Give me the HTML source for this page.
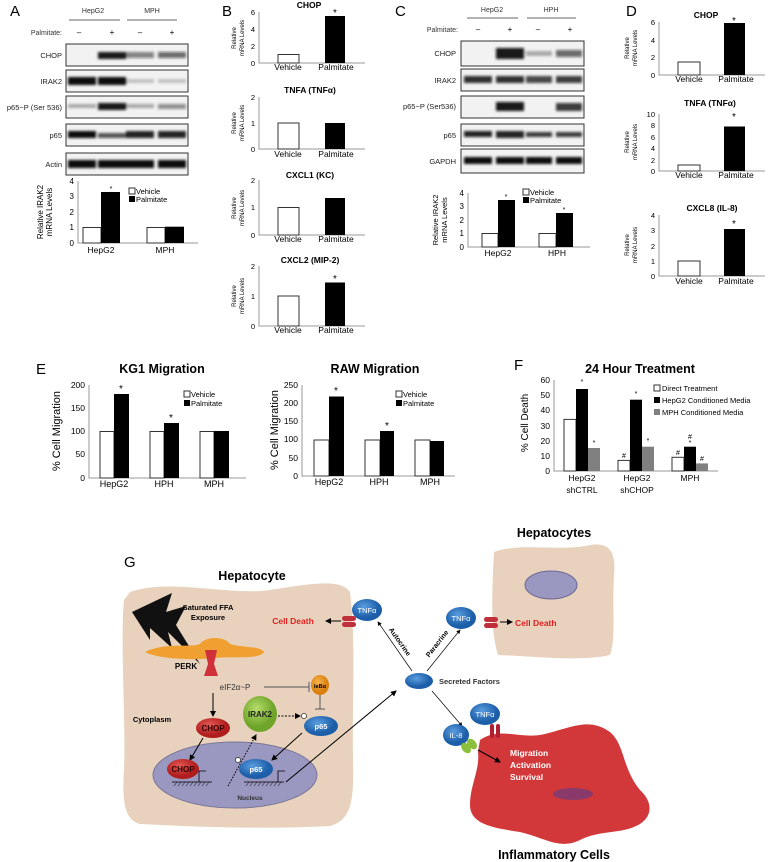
<!DOCTYPE html>
<html><head><meta charset="utf-8"><style>html,body{margin:0;padding:0;background:#fff}svg{display:block}</style></head>
<body>
<svg width="768" height="862" viewBox="0 0 768 862" xmlns="http://www.w3.org/2000/svg" font-family="Liberation Sans, sans-serif">
<defs>
<filter id="bl" x="-20%" y="-50%" width="140%" height="200%"><feGaussianBlur stdDeviation="1.2"/></filter>
<marker id="ar" markerWidth="6" markerHeight="6" refX="5" refY="3" orient="auto"><path d="M0,0 L6,3 L0,6 z" fill="#000"/></marker>
<radialGradient id="gb" cx="40%" cy="35%"><stop offset="0" stop-color="#5a9ee0"/><stop offset="1" stop-color="#1c5ea8"/></radialGradient>
<radialGradient id="gr" cx="40%" cy="35%"><stop offset="0" stop-color="#e65a55"/><stop offset="1" stop-color="#b01d1d"/></radialGradient>
<radialGradient id="gg" cx="40%" cy="35%"><stop offset="0" stop-color="#b5dc6a"/><stop offset="1" stop-color="#6fa52a"/></radialGradient>
<radialGradient id="go" cx="40%" cy="35%"><stop offset="0" stop-color="#f7b24a"/><stop offset="1" stop-color="#d9800f"/></radialGradient>
</defs>

<!-- ===== Panel A ===== -->
<text x="10" y="16" font-size="15">A</text>
<text x="93" y="13" font-size="7" text-anchor="middle" fill="#333">HepG2</text>
<text x="152" y="13" font-size="7" text-anchor="middle" fill="#333">MPH</text>
<line x1="69" y1="20" x2="120" y2="20" stroke="#666"/>
<line x1="127" y1="20" x2="177" y2="20" stroke="#666"/>
<text x="62" y="35" font-size="7" text-anchor="end" fill="#333">Palmitate:</text>
<g font-size="8" text-anchor="middle"><text x="79" y="35">–</text><text x="112" y="35">+</text><text x="140" y="35">–</text><text x="172" y="35">+</text></g>
<g stroke="#333" fill="#f2f2f2"><rect x="66" y="44" width="122" height="22"/><rect x="66" y="70" width="122" height="22"/><rect x="66" y="96" width="122" height="22"/><rect x="66" y="124" width="122" height="22"/><rect x="66" y="153" width="122" height="22"/></g>
<g font-size="7.5" text-anchor="end" fill="#222"><text x="62" y="58">CHOP</text><text x="62" y="84">IRAK2</text><text x="62" y="110">p65~P (Ser 536)</text><text x="62" y="138">p65</text><text x="62" y="167">Actin</text></g>
<g filter="url(#bl)" fill="#111">
<rect x="98" y="52" width="28" height="7" opacity=".95"/><rect x="126" y="52" width="28" height="6" opacity=".5"/><rect x="158" y="52" width="28" height="6" opacity=".6"/>
<rect x="68" y="77" width="28" height="8"/><rect x="98" y="77" width="28" height="8"/><rect x="126" y="79" width="28" height="4" opacity=".2"/><rect x="158" y="79" width="28" height="4" opacity=".2"/>
<rect x="68" y="104" width="28" height="4" opacity=".3"/><rect x="98" y="103" width="28" height="7" opacity=".95"/><rect x="126" y="104" width="28" height="4" opacity=".35"/><rect x="158" y="104" width="28" height="5" opacity=".45"/>
<rect x="68" y="131" width="28" height="7"/><rect x="98" y="133" width="28" height="5" opacity=".7"/><rect x="126" y="131" width="28" height="7" opacity=".9"/><rect x="158" y="131" width="28" height="7" opacity=".9"/>
<rect x="68" y="160" width="28" height="8"/><rect x="98" y="160" width="28" height="8"/><rect x="126" y="160" width="28" height="8"/><rect x="158" y="160" width="28" height="8"/>
</g>
<g stroke="#999" fill="none"><path d="M78,181 V243 H198"/></g>
<g font-size="8" text-anchor="end"><text x="74" y="184">4</text><text x="74" y="199">3</text><text x="74" y="215">2</text><text x="74" y="230">1</text><text x="74" y="246">0</text></g>
<text transform="translate(43,212) rotate(-90)" font-size="8" text-anchor="middle">Relative IRAK2</text>
<text transform="translate(52,212) rotate(-90)" font-size="8" text-anchor="middle">mRNA Levels</text>
<rect x="83" y="227.5" width="18" height="15.5" fill="#fff" stroke="#333"/><rect x="101" y="192" width="19" height="51" fill="#000"/>
<rect x="147" y="227.5" width="18" height="15.5" fill="#fff" stroke="#333"/><rect x="165" y="226.7" width="19" height="16.3" fill="#000"/>
<text x="111" y="191" font-size="7" text-anchor="middle">*</text>
<text x="101" y="253" font-size="8.5" text-anchor="middle">HepG2</text><text x="165" y="253" font-size="8.5" text-anchor="middle">MPH</text>
<rect x="129" y="188" width="6" height="6" fill="#fff" stroke="#333"/><text x="136" y="194" font-size="7.5">Vehicle</text>
<rect x="129" y="196" width="6" height="6" fill="#000"/><text x="136" y="202" font-size="7.5">Palmitate</text>

<!-- ===== Panel B ===== -->
<text x="222" y="16" font-size="15">B</text>
<g font-weight="bold" font-size="8.5" text-anchor="middle"><text x="309" y="8">CHOP</text><text x="310" y="93">TNFA (TNFα)</text><text x="310" y="178">CXCL1 (KC)</text><text x="310" y="263">CXCL2 (MIP-2)</text></g>
<g stroke="#999" fill="none"><path d="M259,12 V63 H365"/><path d="M259,97 V149 H365"/><path d="M259,180 V235 H365"/><path d="M259,266 V326 H365"/></g>
<g font-size="7.5" text-anchor="end"><text x="255" y="15">6</text><text x="255" y="32">4</text><text x="255" y="49">2</text><text x="255" y="66">0</text>
<text x="255" y="100">2</text><text x="255" y="126">1</text><text x="255" y="152">0</text>
<text x="255" y="183">2</text><text x="255" y="210">1</text><text x="255" y="238">0</text>
<text x="255" y="269">2</text><text x="255" y="299">1</text><text x="255" y="329">0</text></g>
<g font-size="6" text-anchor="middle"><text transform="translate(236,38) rotate(-90)">Relative</text><text transform="translate(244,38) rotate(-90)">mRNA Levels</text>
<text transform="translate(236,123) rotate(-90)">Relative</text><text transform="translate(244,123) rotate(-90)">mRNA Levels</text>
<text transform="translate(236,208) rotate(-90)">Relative</text><text transform="translate(244,208) rotate(-90)">mRNA Levels</text>
<text transform="translate(236,296) rotate(-90)">Relative</text><text transform="translate(244,296) rotate(-90)">mRNA Levels</text></g>
<g fill="#fff" stroke="#333"><rect x="278" y="54.5" width="21" height="8.5"/><rect x="278" y="123" width="21" height="26"/><rect x="278" y="207.5" width="21" height="27.5"/><rect x="278" y="296" width="21" height="30"/></g>
<g fill="#000"><rect x="325" y="16" width="20" height="47"/><rect x="325" y="123" width="20" height="26"/><rect x="325" y="198" width="20" height="37"/><rect x="325" y="282.5" width="20" height="43.5"/></g>
<g font-size="10" text-anchor="middle"><text x="335" y="16">*</text><text x="335" y="282">*</text></g>
<g font-size="8.5" text-anchor="middle"><text x="288" y="70">Vehicle</text><text x="336" y="70">Palmitate</text><text x="288" y="157">Vehicle</text><text x="336" y="157">Palmitate</text><text x="288" y="242">Vehicle</text><text x="336" y="242">Palmitate</text><text x="288" y="333">Vehicle</text><text x="336" y="333">Palmitate</text></g>

<!-- ===== Panel C ===== -->
<text x="395" y="16" font-size="15">C</text>
<text x="492" y="12" font-size="7" text-anchor="middle" fill="#333">HepG2</text>
<text x="551" y="12" font-size="7" text-anchor="middle" fill="#333">HPH</text>
<line x1="467" y1="18" x2="518" y2="18" stroke="#666"/><line x1="527" y1="18" x2="576" y2="18" stroke="#666"/>
<text x="458" y="32" font-size="7" text-anchor="end" fill="#333">Palmitate:</text>
<g font-size="8" text-anchor="middle"><text x="478" y="32">–</text><text x="510" y="32">+</text><text x="538" y="32">–</text><text x="570" y="32">+</text></g>
<g stroke="#333" fill="#f2f2f2"><rect x="461" y="41" width="123" height="25"/><rect x="461" y="69" width="123" height="22"/><rect x="461" y="96" width="123" height="22"/><rect x="461" y="124" width="123" height="22"/><rect x="461" y="149" width="123" height="24"/></g>
<g font-size="7.5" text-anchor="end" fill="#222"><text x="456" y="56">CHOP</text><text x="456" y="83">IRAK2</text><text x="456" y="109">p65~P (Ser536)</text><text x="456" y="138">p65</text><text x="456" y="164">GAPDH</text></g>
<g filter="url(#bl)" fill="#111">
<rect x="496" y="48" width="28" height="11" opacity=".95"/><rect x="526" y="51" width="26" height="5" opacity=".3"/><rect x="556" y="50" width="26" height="7" opacity=".6"/>
<rect x="464" y="76" width="28" height="7" opacity=".85"/><rect x="496" y="76" width="28" height="7" opacity=".85"/><rect x="526" y="76" width="26" height="7" opacity=".75"/><rect x="556" y="76" width="26" height="7" opacity=".8"/>
<rect x="496" y="102" width="28" height="9" opacity=".95"/><rect x="556" y="103" width="26" height="8" opacity=".8"/>
<rect x="464" y="131" width="28" height="6" opacity=".9"/><rect x="496" y="131" width="28" height="7" opacity=".9"/><rect x="526" y="132" width="26" height="5" opacity=".8"/><rect x="556" y="132" width="26" height="5" opacity=".8"/>
<rect x="464" y="157" width="28" height="7"/><rect x="496" y="157" width="28" height="7"/><rect x="526" y="157" width="26" height="7"/><rect x="556" y="157" width="26" height="7"/>
</g>
<g stroke="#999" fill="none"><path d="M468,193 V247 H590"/></g>
<g font-size="8" text-anchor="end"><text x="464" y="196">4</text><text x="464" y="209">3</text><text x="464" y="223">2</text><text x="464" y="236">1</text><text x="464" y="250">0</text></g>
<text transform="translate(438,220) rotate(-90)" font-size="7.5" text-anchor="middle">Relative IRAK2</text>
<text transform="translate(447,220) rotate(-90)" font-size="7.5" text-anchor="middle">mRNA Levels</text>
<rect x="482" y="233.5" width="16" height="13.5" fill="#fff" stroke="#333"/><rect x="498" y="200" width="17" height="47" fill="#000"/>
<rect x="539" y="233.5" width="17" height="13.5" fill="#fff" stroke="#333"/><rect x="556" y="213" width="17" height="34" fill="#000"/>
<g font-size="7" text-anchor="middle"><text x="506" y="199">*</text><text x="564" y="212">*</text></g>
<text x="498" y="256" font-size="8.5" text-anchor="middle">HepG2</text><text x="557" y="256" font-size="8.5" text-anchor="middle">HPH</text>
<rect x="523" y="189" width="6" height="6" fill="#fff" stroke="#333"/><text x="530" y="195" font-size="7.5">Vehicle</text>
<rect x="523" y="197" width="6" height="6" fill="#000"/><text x="530" y="203" font-size="7.5">Palmitate</text>

<!-- ===== Panel D ===== -->
<text x="626" y="16" font-size="15">D</text>
<g font-weight="bold" font-size="8.5" text-anchor="middle"><text x="706" y="18">CHOP</text><text x="710" y="106">TNFA (TNFα)</text><text x="712" y="211">CXCL8 (IL-8)</text></g>
<g stroke="#999" fill="none"><path d="M659,22 V75 H765"/><path d="M659,114 V171 H765"/><path d="M659,215 V276 H765"/></g>
<g font-size="7.5" text-anchor="end"><text x="655" y="25">6</text><text x="655" y="43">4</text><text x="655" y="60">2</text><text x="655" y="78">0</text>
<text x="655" y="117">10</text><text x="655" y="128">8</text><text x="655" y="140">6</text><text x="655" y="151">4</text><text x="655" y="163">2</text><text x="655" y="174">0</text>
<text x="655" y="218">4</text><text x="655" y="233">3</text><text x="655" y="249">2</text><text x="655" y="264">1</text><text x="655" y="279">0</text></g>
<g font-size="6" text-anchor="middle"><text transform="translate(629,48) rotate(-90)">Relative</text><text transform="translate(637,48) rotate(-90)">mRNA Levels</text>
<text transform="translate(629,142) rotate(-90)">Relative</text><text transform="translate(637,142) rotate(-90)">mRNA Levels</text>
<text transform="translate(629,245) rotate(-90)">Relative</text><text transform="translate(637,245) rotate(-90)">mRNA Levels</text></g>
<g fill="#fff" stroke="#333"><rect x="678" y="62" width="22" height="13"/><rect x="678" y="165" width="22" height="6"/><rect x="678" y="261" width="22" height="15"/></g>
<g fill="#000"><rect x="724" y="23" width="21" height="52"/><rect x="724" y="126.5" width="21" height="44.5"/><rect x="724" y="229" width="21" height="47"/></g>
<g font-size="10" text-anchor="middle"><text x="734" y="24">*</text><text x="734" y="120">*</text><text x="734" y="227">*</text></g>
<g font-size="8.5" text-anchor="middle"><text x="689" y="82">Vehicle</text><text x="736" y="82">Palmitate</text><text x="689" y="178">Vehicle</text><text x="736" y="178">Palmitate</text><text x="689" y="284">Vehicle</text><text x="736" y="284">Palmitate</text></g>

<!-- ===== Panel E ===== -->
<text x="36" y="374" font-size="15">E</text>
<g font-weight="bold" font-size="12.5" text-anchor="middle"><text x="162" y="373">KG1 Migration</text><text x="375" y="373">RAW Migration</text></g>
<g stroke="#999" fill="none"><path d="M89,385 V478 H246"/><path d="M302,385 V476 H455"/></g>
<g font-size="8.5" text-anchor="end"><text x="85" y="388">200</text><text x="85" y="411">150</text><text x="85" y="434">100</text><text x="85" y="457">50</text><text x="85" y="481">0</text>
<text x="298" y="388">250</text><text x="298" y="406">200</text><text x="298" y="424">150</text><text x="298" y="442">100</text><text x="298" y="461">50</text><text x="298" y="479">0</text></g>
<text transform="translate(60,431) rotate(-90)" font-size="11" text-anchor="middle">% Cell Migration</text>
<text transform="translate(278,430) rotate(-90)" font-size="11" text-anchor="middle">% Cell Migration</text>
<g fill="#fff" stroke="#333"><rect x="100" y="431.5" width="14" height="46.5"/><rect x="150" y="431.5" width="14" height="46.5"/><rect x="200" y="431.5" width="14" height="46.5"/>
<rect x="314" y="440" width="15" height="36"/><rect x="365" y="440" width="15" height="36"/><rect x="415" y="440" width="15" height="36"/></g>
<g fill="#000"><rect x="114" y="394" width="15" height="84"/><rect x="164" y="423" width="15" height="55"/><rect x="214" y="431" width="15" height="47"/>
<rect x="329" y="396.5" width="15" height="79.5"/><rect x="380" y="431" width="14" height="45"/><rect x="430" y="441" width="14" height="35"/></g>
<g font-size="10" text-anchor="middle"><text x="121" y="392">*</text><text x="171" y="421">*</text><text x="336" y="394">*</text><text x="387" y="429">*</text></g>
<g font-size="9" text-anchor="middle"><text x="114" y="487">HepG2</text><text x="164" y="487">HPH</text><text x="214" y="487">MPH</text><text x="329" y="485">HepG2</text><text x="379" y="485">HPH</text><text x="430" y="485">MPH</text></g>
<rect x="184" y="391" width="6" height="6" fill="#fff" stroke="#333"/><text x="191" y="397" font-size="7.5">Vehicle</text>
<rect x="184" y="400" width="6" height="6" fill="#000"/><text x="191" y="406" font-size="7.5">Palmitate</text>
<rect x="396" y="391" width="6" height="6" fill="#fff" stroke="#333"/><text x="403" y="397" font-size="7.5">Vehicle</text>
<rect x="396" y="400" width="6" height="6" fill="#000"/><text x="403" y="406" font-size="7.5">Palmitate</text>

<!-- ===== Panel F ===== -->
<text x="514" y="370" font-size="15">F</text>
<text x="640" y="373" font-weight="bold" font-size="12.5" text-anchor="middle">24 Hour Treatment</text>
<g stroke="#999" fill="none"><path d="M554,380 V471 H718"/></g>
<g font-size="8.5" text-anchor="end"><text x="550" y="383">60</text><text x="550" y="398">50</text><text x="550" y="413">40</text><text x="550" y="429">30</text><text x="550" y="444">20</text><text x="550" y="459">10</text><text x="550" y="474">0</text></g>
<text transform="translate(528,423) rotate(-90)" font-size="10" text-anchor="middle">% Cell Death</text>
<g fill="#fff" stroke="#333"><rect x="564" y="419.4" width="12" height="51.6"/><rect x="618" y="460.4" width="12" height="10.6"/><rect x="672" y="457.3" width="12" height="13.7"/></g>
<g fill="#000"><rect x="576" y="389" width="12" height="82"/><rect x="630" y="399.7" width="12" height="71.3"/><rect x="684" y="446.7" width="12" height="24.3"/></g>
<g fill="#808080"><rect x="588" y="448" width="12" height="23"/><rect x="642" y="446.7" width="12" height="24.3"/><rect x="696" y="463.4" width="12" height="7.6"/></g>
<g font-size="7" text-anchor="middle"><text x="582" y="384">*</text><text x="594" y="445">*</text><text x="624" y="458">#</text><text x="636" y="396">*</text><text x="648" y="443">*</text><text x="678" y="455">#</text><text x="690" y="439">#</text><text x="690" y="445">*</text><text x="702" y="461">#</text></g>
<g font-size="8.5" text-anchor="middle"><text x="582" y="481">HepG2</text><text x="582" y="493">shCTRL</text><text x="637" y="481">HepG2</text><text x="637" y="493">shCHOP</text><text x="690" y="481">MPH</text></g>
<g font-size="7.5"><rect x="654" y="385" width="6" height="6" fill="#fff" stroke="#333"/><text x="662" y="391">Direct Treatment</text>
<rect x="654" y="397" width="6" height="6" fill="#000"/><text x="662" y="403">HepG2 Conditioned Media</text>
<rect x="654" y="409" width="6" height="6" fill="#808080"/><text x="662" y="415">MPH Conditioned Media</text></g>

<!-- ===== Panel G ===== -->
<text x="124" y="567" font-size="15">G</text>
<text x="252" y="580" font-weight="bold" font-size="12.5" text-anchor="middle">Hepatocyte</text>
<text x="554" y="537" font-weight="bold" font-size="12.5" text-anchor="middle">Hepatocytes</text>
<text x="554" y="859" font-weight="bold" font-size="12.5" text-anchor="middle">Inflammatory Cells</text>
<!-- main cell -->
<path d="M130,592 C170,578 230,596 270,590 C310,584 340,578 350,592 C356,640 352,700 353,760 C354,800 352,820 330,826 C260,830 180,826 140,824 C124,820 122,800 124,770 C126,720 120,640 124,600 Z" fill="#e8d2bd"/>
<!-- hepatocytes cell -->
<path d="M494,552 C520,542 560,552 590,545 C610,542 616,552 614,575 C612,610 616,640 610,655 C580,662 530,656 498,655 C490,630 492,590 494,552 Z" fill="#e8d2bd"/>
<ellipse cx="551" cy="585" rx="26" ry="14" fill="#9a97c0" stroke="#6b6890"/>
<!-- inflammatory cell -->
<path d="M480,740 C500,726 520,740 545,734 C575,726 590,718 610,732 C625,745 622,768 640,790 C656,805 650,820 636,826 C620,834 600,830 580,840 C560,850 545,838 520,832 C495,828 470,825 470,805 C470,785 480,770 478,752 Z" fill="#d2383a"/>
<ellipse cx="573" cy="794" rx="20" ry="6" fill="#8a3a6a"/>
<!-- nucleus -->
<ellipse cx="235" cy="775" rx="82" ry="33" fill="#9a97c0" stroke="#7a7798"/>
<text x="250" y="800" font-size="6.5" font-weight="bold" text-anchor="middle" fill="#333">Nucleus</text>
<!-- lightning -->
<path d="M132,612 L172,593 L166,612 L186,606 L176,625 L200,664 L168,632 L172,648 L150,628 L150,640 Z" fill="#111"/>
<text x="208" y="610" font-size="7.5" font-weight="bold" text-anchor="middle">Saturated FFA</text>
<text x="208" y="620" font-size="7.5" font-weight="bold" text-anchor="middle">Exposure</text>
<!-- ER -->
<path d="M145,652 C165,642 190,648 200,644 C205,636 225,636 230,644 C245,648 260,646 264,652 C260,660 230,656 215,658 C200,660 160,660 145,652 Z" fill="#f0a030"/>
<path d="M205,650 L217,650 L214,664 L218,676 L204,676 L208,664 Z" fill="#d0303a"/>
<text x="186" y="669" font-size="8" font-weight="bold" text-anchor="middle">PERK</text>
<text x="235" y="690" font-size="8" text-anchor="middle" fill="#333">eIF2α~P</text>
<line x1="264" y1="687" x2="309" y2="687" stroke="#555"/><line x1="309" y1="682" x2="309" y2="692" stroke="#555"/>
<ellipse cx="320" cy="685" rx="9" ry="10" fill="url(#go)"/><text x="320" y="688" font-size="5.5" font-weight="bold" text-anchor="middle">IκBα</text>
<line x1="320" y1="695" x2="320" y2="709" stroke="#555"/><line x1="315" y1="709" x2="325" y2="709" stroke="#555"/>
<text x="152" y="722" font-size="7.5" font-weight="bold" text-anchor="middle">Cytoplasm</text>
<line x1="213" y1="693" x2="213" y2="716" stroke="#000" marker-end="url(#ar)"/>
<ellipse cx="213" cy="728" rx="17" ry="10" fill="url(#gr)"/><text x="213" y="731" font-size="8" font-weight="bold" text-anchor="middle" fill="#300">CHOP</text>
<ellipse cx="260" cy="714" rx="17" ry="18" fill="url(#gg)"/><text x="260" y="717" font-size="8" font-weight="bold" text-anchor="middle" fill="#222">IRAK2</text>
<line x1="278" y1="716" x2="300" y2="716" stroke="#000" stroke-dasharray="2,1.5" marker-end="url(#ar)"/>
<circle cx="304" cy="716" r="2.6" fill="#fff" stroke="#000" stroke-width=".6"/>
<ellipse cx="321" cy="726" rx="17" ry="10" fill="url(#gb)"/><text x="321" y="729" font-size="7.5" font-weight="bold" text-anchor="middle" fill="#fff">p65</text>
<line x1="203" y1="738" x2="190" y2="760" stroke="#000" marker-end="url(#ar)"/>
<line x1="302" y1="733" x2="272" y2="760" stroke="#000" marker-end="url(#ar)"/>
<line x1="228" y1="786" x2="256" y2="735" stroke="#000" stroke-dasharray="1.5,1.5" marker-end="url(#ar)"/>
<ellipse cx="183" cy="769" rx="16" ry="10" fill="url(#gr)"/><text x="183" y="772" font-size="8" font-weight="bold" text-anchor="middle" fill="#300">CHOP</text>
<ellipse cx="256" cy="769" rx="17" ry="10" fill="url(#gb)"/><text x="256" y="772" font-size="7.5" font-weight="bold" text-anchor="middle" fill="#fff">p65</text>
<circle cx="238" cy="760" r="2.6" fill="#fff" stroke="#000" stroke-width=".6"/>
<g stroke="#000" fill="none" stroke-width=".8"><path d="M172,782 H212 M199,782 V771 H206"/><path d="M244,782 H284 M278,782 V771 H285"/></g>
<g stroke="#000" stroke-width=".5"><path d="M174,786 l3,-4 M178,786 l3,-4 M182,786 l3,-4 M186,786 l3,-4 M190,786 l3,-4 M194,786 l3,-4 M198,786 l3,-4 M202,786 l3,-4 M206,786 l3,-4"/><path d="M246,786 l3,-4 M250,786 l3,-4 M254,786 l3,-4 M258,786 l3,-4 M262,786 l3,-4 M266,786 l3,-4 M270,786 l3,-4 M274,786 l3,-4 M278,786 l3,-4"/></g>
<line x1="286" y1="782" x2="396" y2="691" stroke="#000" marker-end="url(#ar)"/>
<!-- secreted -->
<ellipse cx="419" cy="681" rx="14" ry="8" fill="url(#gb)"/>
<text x="439" y="684" font-size="7.5" font-weight="bold" fill="#333">Secreted Factors</text>
<line x1="412" y1="671" x2="378" y2="622" stroke="#000" stroke-width=".7" marker-end="url(#ar)"/>
<text transform="translate(398,643) rotate(55)" font-size="7" font-weight="bold" text-anchor="middle">Autocrine</text>
<line x1="427" y1="671" x2="460" y2="630" stroke="#000" stroke-width=".7" marker-end="url(#ar)"/>
<text transform="translate(439,645) rotate(-52)" font-size="7" font-weight="bold" text-anchor="middle">Paracrine</text>
<line x1="432" y1="691" x2="462" y2="726" stroke="#000" stroke-width=".7" marker-end="url(#ar)"/>
<!-- TNF autocrine -->
<ellipse cx="367" cy="610" rx="15" ry="11" fill="url(#gb)"/><text x="367" y="613" font-size="7.5" text-anchor="middle" fill="#fff">TNFα</text>
<rect x="342" y="616" width="14" height="5" rx="2.5" fill="#c0303a"/><rect x="342" y="622" width="14" height="5" rx="2.5" fill="#c0303a"/>
<line x1="341" y1="621" x2="326" y2="621" stroke="#000" marker-end="url(#ar)"/>
<text x="293" y="624" font-size="8.5" font-weight="bold" fill="#e02020" text-anchor="middle">Cell Death</text>
<!-- TNF paracrine -->
<ellipse cx="461" cy="618" rx="15" ry="11" fill="url(#gb)"/><text x="461" y="621" font-size="7.5" text-anchor="middle" fill="#fff">TNFα</text>
<rect x="484" y="617" width="14" height="5" rx="2.5" fill="#c0303a"/><rect x="484" y="623" width="14" height="5" rx="2.5" fill="#c0303a"/>
<line x1="500" y1="622" x2="512" y2="622" stroke="#000" marker-end="url(#ar)"/>
<text x="515" y="626" font-size="8.5" font-weight="bold" fill="#e02020">Cell Death</text>
<!-- inflammatory -->
<ellipse cx="485" cy="714" rx="15" ry="11" fill="url(#gb)"/><text x="485" y="717" font-size="7.5" text-anchor="middle" fill="#fff">TNFα</text>
<ellipse cx="456" cy="735" rx="13" ry="11" fill="url(#gb)"/><text x="456" y="738" font-size="7.5" text-anchor="middle" fill="#fff">IL-8</text>
<rect x="490" y="724" width="4" height="14" rx="2" fill="#b02030"/><rect x="496" y="724" width="4" height="14" rx="2" fill="#b02030"/>
<ellipse cx="466" cy="748" rx="4" ry="6" fill="#8cc03a" transform="rotate(-40 466 748)"/><ellipse cx="472" cy="744" rx="4" ry="6" fill="#8cc03a" transform="rotate(-40 472 744)"/>
<line x1="478" y1="750" x2="500" y2="762" stroke="#000" marker-end="url(#ar)"/>
<g font-size="8.5" font-weight="bold" fill="#fff"><text x="510" y="756">Migration</text><text x="510" y="768">Activation</text><text x="510" y="780">Survival</text></g>
</svg>
</body></html>
